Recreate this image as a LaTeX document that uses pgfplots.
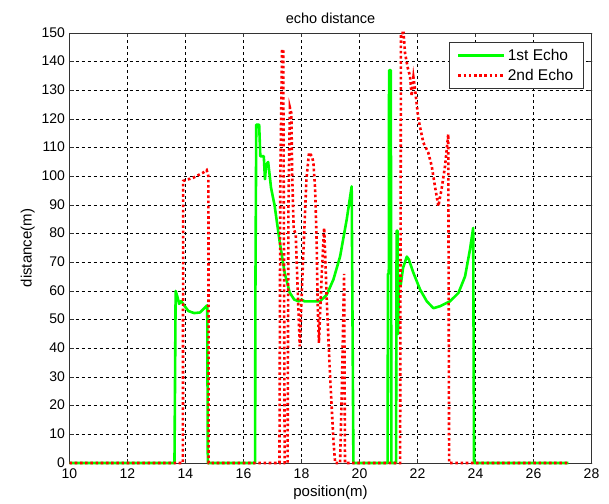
\documentclass[border=0pt]{standalone}
\usepackage{fontspec}
\setmainfont{Liberation Sans}
\usepackage{pgfplots}
\pgfplotsset{compat=1.18}
\definecolor{mgreen}{rgb}{0,1,0}
\definecolor{mred}{rgb}{1,0,0}
\begin{document}
\begin{tikzpicture}[font=\fontsize{14bp}{16bp}\selectfont]
\begin{axis}[
  width=522bp, height=430bp, scale only axis,
  xmin=10, xmax=28, ymin=0, ymax=150,
  xtick={10,12,...,28}, ytick={0,10,...,150},
  grid=major,
  major grid style={black, dash pattern=on 3bp off 3bp, line width=0.6bp},
  tick align=inside, xtick pos=both, ytick pos=both,
  major tick length=4bp,
  tick style={black!80, line width=0.6bp},
  axis line style={black!80, line width=0.8bp},
  title={echo distance},
  title style={font=\fontsize{14.5bp}{16bp}\selectfont},
  xlabel={position(m)}, ylabel={distance(m)},
  label style={font=\fontsize{15bp}{17bp}\selectfont},
  xticklabel style={yshift=-2.5bp},
  yticklabel style={xshift=-1bp, yshift=0.5bp},
  /pgf/number format/assume math mode=true,
  clip=false,
  legend cell align=left,
  legend style={at={(0.985,0.978)}, anchor=north east, draw=black!80, line width=0.8bp,
    font=\fontsize{15.5bp}{17bp}\selectfont,
    inner xsep=8bp, inner ysep=4.5bp, row sep=3bp},
  legend image code/.code={\draw[#1] (0bp,0bp) -- (46bp,0bp);},
]
\addplot[mgreen, line width=2.6bp, line join=round] coordinates {
(10,0) (13.62,0) (13.64,30) (13.66,60) (13.72,58) (13.78,55.5) (13.85,56.5) (13.95,55) (14.1,53) (14.3,52.3) (14.5,52.5) (14.65,54) (14.75,55) (14.77,0)
(16.40,0) (16.41,58) (16.44,118) (16.54,118) (16.58,107) (16.70,107) (16.74,99) (16.78,104) (16.85,105) (16.95,96) (17.07,90) (17.25,77) (17.42,66.3) (17.59,59.5) (17.75,57) (17.9,56.4) (18.01,57) (18.1,56.4) (18.4,56.4) (18.64,56.4) (18.87,58.7) (19.10,64) (19.33,72) (19.56,85) (19.73,96.5) (19.76,48) (19.79,0)
(20.97,0) (20.98,66) (21.01,66) (21.02,137) (21.08,137) (21.10,0) (21.26,0) (21.28,81) (21.31,81) (21.33,45) (21.36,65) (21.42,62) (21.5,68) (21.63,72) (21.7,71) (21.86,66.3) (22.09,60.5) (22.32,56.4) (22.55,54) (22.78,54.7) (23.12,56.4) (23.41,59.3) (23.64,65.1) (23.81,74.5) (23.92,82) (23.95,0) (27.2,0)
};
\addlegendentry{1st Echo}
\addplot[mred, line width=2.6bp, dash pattern=on 2.6bp off 2.6bp] coordinates {
(10,0) (13.91,0) (13.92,98.4) (14.27,99.5) (14.61,101.3) (14.73,102.2) (14.79,100) (14.80,0)
(17.24,0) (17.27,100) (17.33,144.4) (17.37,144) (17.40,60) (17.42,0) (17.52,0) (17.55,90) (17.60,124) (17.65,122) (17.68,100) (17.73,81.5) (17.80,80) (17.87,60) (17.94,40.7) (18.05,69.8) (18.17,99) (18.26,108.3) (18.36,107) (18.41,104.8) (18.47,95.5) (18.52,78) (18.56,54.7) (18.60,41.9) (18.70,66.3) (18.78,82) (18.81,74.5) (18.87,57) (18.98,31.4) (19.10,8) (19.16,0)
(19.33,0) (19.40,30) (19.47,66) (19.50,0)
(21.40,0) (21.43,150) (21.52,150) (21.57,143) (21.66,138) (21.74,135) (21.80,128) (21.86,134.5) (21.92,130) (22.03,120) (22.2,111.8) (22.37,108.3) (22.49,103.6) (22.6,96.6) (22.72,89.6) (22.83,95.5) (22.95,103.6) (23.06,114.7) (23.09,0) (27.2,0)
};
\addlegendentry{2nd Echo}
\coordinate (ll) at (rel axis cs:0,0);
\coordinate (ur) at (rel axis cs:1,1);
\end{axis}
\path (ll) ++(-69.5bp,-40bp) (ur) ++(17.5bp,33bp);
\end{tikzpicture}
\end{document}
